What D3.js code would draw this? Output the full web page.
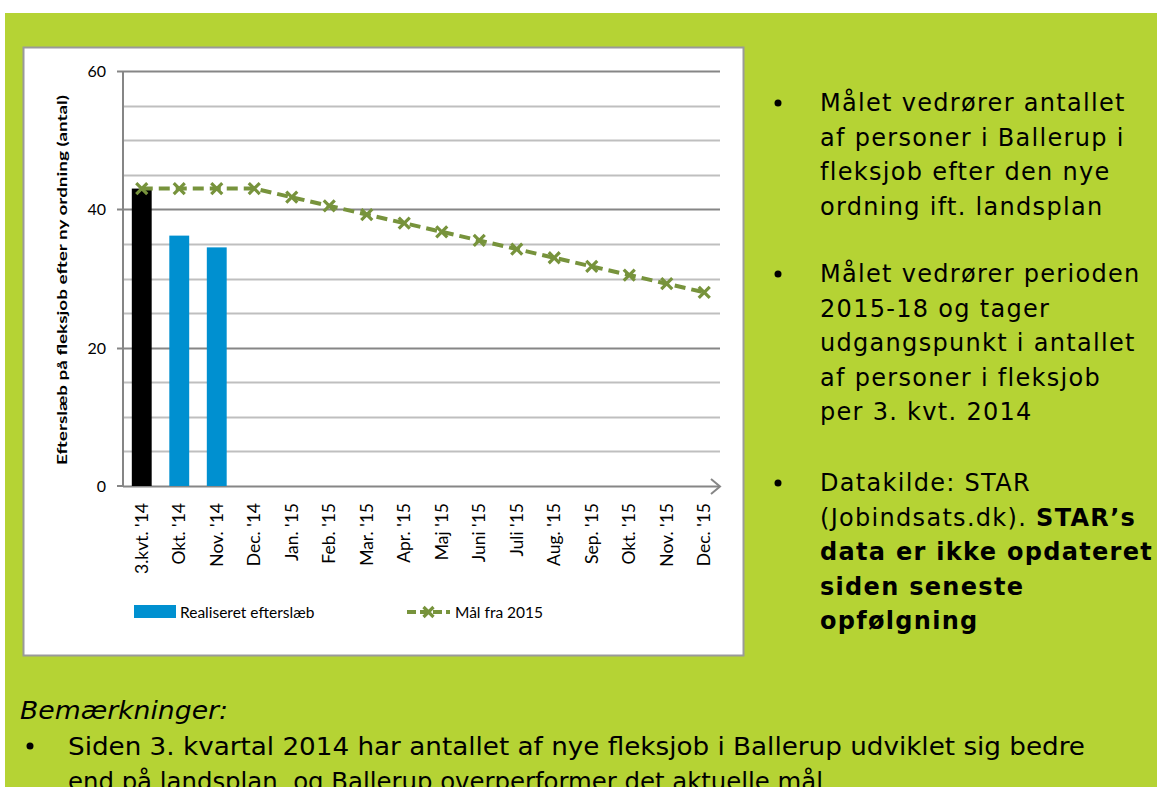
<!DOCTYPE html>
<html>
<head>
<meta charset="utf-8">
<script src="https://cdn.jsdelivr.net/npm/d3@7"></script>
<style>
  body { margin: 0; background: #fff; }
  svg { display: block; }
</style>
</head>
<body>
<div id="chart"></div>
<script>
// chart data
const categories = ["3.kvt. '14", "Okt. '14", "Nov. '14", "Dec. '14", "Jan. '15", "Feb. '15", "Mar. '15",
  "Apr. '15", "Maj '15", "Juni '15", "Juli '15", "Aug. '15", "Sep. '15", "Okt. '15", "Nov. '15", "Dec. '15"];
const barCategories = ["3.kvt. '14", "Okt. '14", "Nov. '14"];
const barValues = [43, 36.2, 34.5];
const goalValues = [43, 43, 43, 43, 41.75, 40.5, 39.25, 38, 36.75, 35.5, 34.25, 33, 31.75, 30.5, 29.25, 28];
const yTicks = [0, 20, 40, 60];
const yGrid = [5, 10, 15, 25, 30, 35, 45, 50, 55];
const barLabel = "Realiseret efterslæb";
const lineLabel = "Mål fra 2015";
const yTitle = "Efterslæb på fleksjob efter ny ordning (antal)";

const notes = [
  { lines: ["Målet vedrører antallet", "af personer i Ballerup i", "fleksjob efter den nye", "ordning ift. landsplan"], top: 111 },
  { lines: ["Målet vedrører perioden", "2015-18 og tager", "udgangspunkt i antallet", "af personer i fleksjob", "per 3. kvt. 2014"], top: 282 },
  { lines: ["Datakilde: STAR", ["(Jobindsats.dk). ", "STAR’s"], "data er ikke opdateret", "siden seneste", "opfølgning"], top: 491, boldFrom: 1 }
];

const W = 1157, H = 787;
const green = '#b5d334', olive = '#77933c', blue = '#0090d0';
const chartFont = 'Lato, Carlito, sans-serif';

const svg = d3.select('#chart').append('svg')
  .attr('width', W).attr('height', H);

// green panel
svg.append('rect').attr('x', 5).attr('y', 13).attr('width', W).attr('height', H)
  .attr('fill', green);

// white chart box
svg.append('rect').attr('x', 23.5).attr('y', 47.5).attr('width', 720).attr('height', 608)
  .attr('fill', '#fff').attr('stroke', '#9a9a9a').attr('stroke-width', 2);

const x = d3.scaleBand().domain(categories).range([123, 723]).paddingInner(0.47).paddingOuter(0.235);
const y = d3.scaleLinear().domain([0, 60]).range([486, 71]);

// gridlines
const g = svg.append('g');
g.selectAll('.minor').data(yGrid).enter().append('line')
  .attr('x1', 123).attr('x2', 720)
  .attr('y1', d => Math.round(y(d)) + 0.5).attr('y2', d => Math.round(y(d)) + 0.5)
  .attr('stroke', '#bfbfbf').attr('stroke-width', 2);
g.selectAll('.major').data(yTicks.filter(d => d > 0)).enter().append('line')
  .attr('x1', 117).attr('x2', 720)
  .attr('y1', d => Math.round(y(d)) + 0.5).attr('y2', d => Math.round(y(d)) + 0.5)
  .attr('stroke', '#868686').attr('stroke-width', 2);

// y axis
g.append('line').attr('x1', 123).attr('x2', 123).attr('y1', y(60)).attr('y2', y(0))
  .attr('stroke', '#868686').attr('stroke-width', 2);
g.append('line').attr('x1', 117).attr('x2', 123).attr('y1', y(0)).attr('y2', y(0))
  .attr('stroke', '#868686').attr('stroke-width', 2);
g.selectAll('.ylab').data(yTicks).enter().append('text')
  .attr('x', 106).attr('y', d => y(d) + 6)
  .attr('text-anchor', 'end')
  .style('font-family', chartFont).style('font-size', '16px').attr('fill', '#000')
  .text(d => d);

// bars
svg.selectAll('.bar').data(barValues).enter().append('rect')
  .attr('x', (d, i) => x(barCategories[i]))
  .attr('y', d => y(d))
  .attr('width', x.bandwidth())
  .attr('height', d => y(0) - y(d))
  .attr('fill', (d, i) => i === 0 ? '#000' : blue);

// x axis with arrow
g.append('line').attr('x1', 123).attr('x2', 720).attr('y1', y(0) + 0.5).attr('y2', y(0) + 0.5)
  .attr('stroke', '#868686').attr('stroke-width', 2);
g.append('path').attr('d', `M711,${y(0) - 7}L720,${y(0) + 0.5}L711,${y(0) + 8}`)
  .attr('fill', 'none').attr('stroke', '#868686').attr('stroke-width', 2);

svg.selectAll('.xlab').data(categories).enter().append('text')
  .attr('transform', d => `translate(${x(d) + x.bandwidth() / 2 + 6},503) rotate(-90)`)
  .attr('text-anchor', 'end')
  .style('font-family', chartFont).style('font-size', '17.5px').attr('fill', '#000')
  .text(d => d);

// goal line
const cx = d => x(d) + x.bandwidth() / 2;
const line = d3.line().x((d, i) => cx(categories[i])).y(d => y(d));
svg.append('path').datum(goalValues).attr('d', line)
  .attr('fill', 'none').attr('stroke', olive).attr('stroke-width', 4)
  .attr('stroke-dasharray', '11,6');

function cross(sel, px, py, r) {
  sel.append('path').attr('d', `M${px - r},${py - r}L${px + r},${py + r}M${px - r},${py + r}L${px + r},${py - r}`)
    .attr('stroke', olive).attr('stroke-width', 3.2).attr('fill', 'none');
}
goalValues.forEach((v, i) => cross(svg, cx(categories[i]), y(v), 5.5));

// y title
svg.append('text')
  .attr('transform', `translate(67,280) rotate(-90)`)
  .attr('text-anchor', 'middle')
  .style('font-family', chartFont).style('font-size', '14px').style('font-weight', 'bold')
  .attr('textLength', 370).attr('lengthAdjust', 'spacingAndGlyphs')
  .text(yTitle);

// legend
svg.append('rect').attr('x', 134).attr('y', 605).attr('width', 42).attr('height', 13).attr('fill', blue);
svg.append('text').attr('x', 180).attr('y', 618)
  .style('font-family', chartFont).style('font-size', '15.5px')
  .text(barLabel);
svg.append('line').attr('x1', 407).attr('x2', 450).attr('y1', 612).attr('y2', 612)
  .attr('stroke', olive).attr('stroke-width', 4).attr('stroke-dasharray', '9,4');
cross(svg, 428.5, 612, 5);
svg.append('text').attr('x', 455).attr('y', 618)
  .style('font-family', chartFont).style('font-size', '15.5px')
  .text(lineLabel);

// right side notes
const noteFont = 'Verdana, "DejaVu Sans", sans-serif';
notes.forEach(n => {
  svg.append('circle').attr('cx', 778).attr('cy', n.top - 8).attr('r', 3.5).attr('fill', '#000');
  n.lines.forEach((ln, i) => {
    const t = svg.append('text').attr('x', 820).attr('y', n.top + i * 34.5)
      .style('font-family', noteFont).style('font-size', '24px').style('letter-spacing', '1.3px')
      .attr('fill', '#000');
    const bold = n.boldFrom !== undefined && i > n.boldFrom;
    if (Array.isArray(ln)) {
      t.append('tspan').text(ln[0]);
      t.append('tspan').style('font-weight', 'bold').text(ln[1]);
    } else {
      t.style('font-weight', bold ? 'bold' : 'normal').text(ln);
    }
  });
});

// remarks below
svg.append('text').attr('x', 20).attr('y', 719)
  .style('font-family', noteFont).style('font-size', '24px').style('font-style', 'italic')
  .attr('textLength', 208).attr('lengthAdjust', 'spacingAndGlyphs')
  .text('Bemærkninger:');
svg.append('circle').attr('cx', 30).attr('cy', 746).attr('r', 3.5).attr('fill', '#000');
svg.append('text').attr('x', 68).attr('y', 755)
  .style('font-family', noteFont).style('font-size', '24px')
  .attr('textLength', 1017).attr('lengthAdjust', 'spacingAndGlyphs')
  .text('Siden 3. kvartal 2014 har antallet af nye fleksjob i Ballerup udviklet sig bedre');
svg.append('text').attr('x', 68).attr('y', 790)
  .style('font-family', noteFont).style('font-size', '24px')
  .attr('textLength', 755).attr('lengthAdjust', 'spacingAndGlyphs')
  .text('end på landsplan, og Ballerup overperformer det aktuelle mål');
</script>
</body>
</html>
